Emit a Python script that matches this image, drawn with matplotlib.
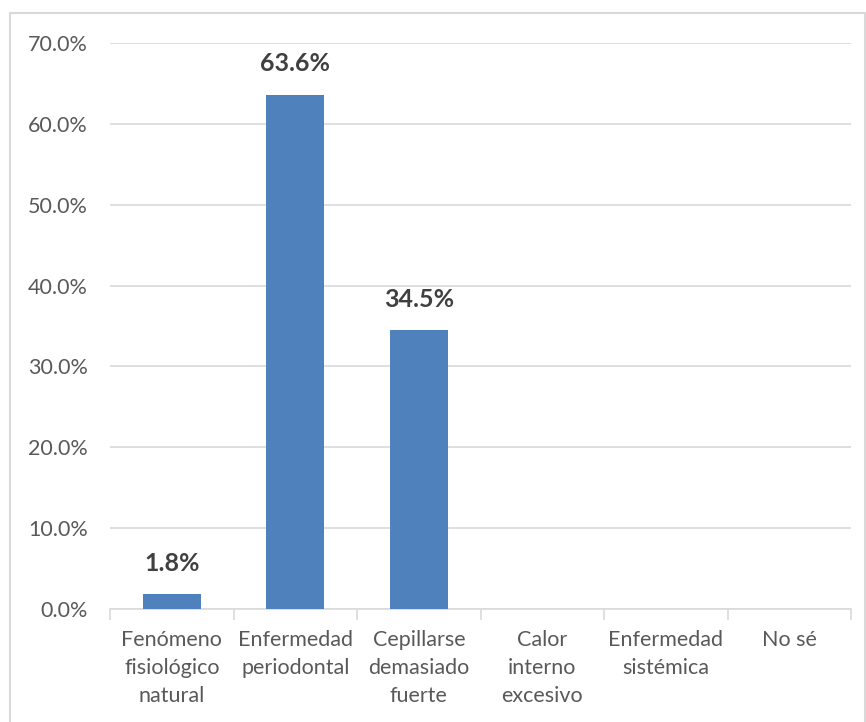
import matplotlib
matplotlib.use('Agg')
import matplotlib.pyplot as plt
import matplotlib.patches as mpatches
from matplotlib.ticker import FuncFormatter, MultipleLocator

# categories and percentages
categories = ['Fenómeno\nfisiológico\nnatural', 'Enfermedad\nperiodontal',
              'Cepillarse\ndemasiado\nfuerte', 'Calor\ninterno\nexcesivo',
              'Enfermedad\nsistémica', 'No sé']
values = [1.8, 63.6, 34.5, 0.0, 0.0, 0.0]
shown_labels = ['1.8%', '63.6%', '34.5%', None, None, None]

bar_color = '#4F81BD'
grid_color = '#D9D9D9'
text_color = '#595959'

plt.rcParams['font.family'] = ['Lato', 'DejaVu Sans']

fig = plt.figure(figsize=(8.66, 7.22), dpi=100)
ax = fig.add_axes([0.127, 0.1565, 0.856, 0.7839])

x = list(range(len(categories)))
bars = ax.bar(x, values, width=0.47, color=bar_color, zorder=3)

# data labels above the bars
for b, lab in zip(bars, shown_labels):
    if lab is None:
        continue
    ax.annotate(lab, (b.get_x() + b.get_width() / 2, b.get_height()),
                xytext=(0, 14), textcoords='offset points', ha='center', va='bottom',
                fontsize=18, fontweight='bold', color='#404040')

ax.set_xlim(-0.5, len(categories) - 0.5)
ax.set_ylim(0, 70)
ax.yaxis.set_major_locator(MultipleLocator(10))
ax.yaxis.set_major_formatter(FuncFormatter(lambda v, p: '{:.1f}%'.format(v)))
ax.grid(axis='y', color=grid_color, linewidth=1.2, zorder=0)

ax.set_xticks(x)
ax.set_xticklabels(categories, fontsize=15.5, color=text_color, linespacing=1.5, va='top')
ax.set_xticks([i - 0.5 for i in range(len(categories) + 1)], minor=True)
ax.tick_params(axis='x', which='major', length=0, pad=15)
ax.tick_params(axis='x', which='minor', length=8, width=1.2, color=grid_color)
ax.tick_params(axis='y', length=0, labelsize=15.5, labelcolor=text_color, pad=16)

for s in ['top', 'right', 'left']:
    ax.spines[s].set_visible(False)
ax.spines['bottom'].set_color(grid_color)
ax.spines['bottom'].set_linewidth(1.2)

# light chart border like the spreadsheet frame
border = mpatches.Rectangle((10 / 866, -0.05), 855 / 866, 1 - 13 / 722 + 0.05,
                            transform=fig.transFigure, fill=False,
                            edgecolor=grid_color, linewidth=1.5)
fig.patches.append(border)

fig.savefig('out.png', dpi=100)
